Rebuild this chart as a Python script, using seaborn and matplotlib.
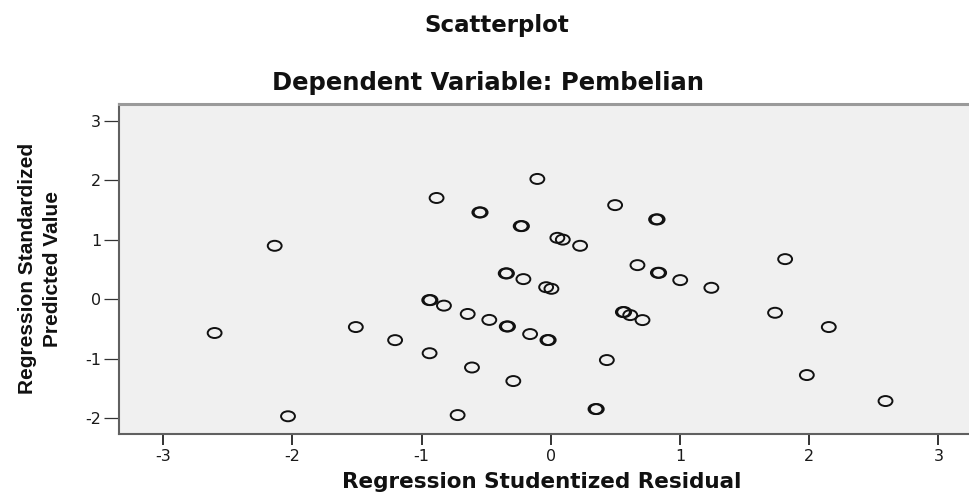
import numpy as np
import matplotlib
matplotlib.use("Agg")
import matplotlib.pyplot as plt
from matplotlib.path import Path
from matplotlib.transforms import Affine2D
import seaborn as sns

# ---------------------------------------------------------
# Data read off the SPSS residual scatterplot
# ---------------------------------------------------------
studentized_residual = [
    -0.884, -0.553, -0.543, -2.137, -0.941, -0.931, -0.827, -0.643, -0.476,
    -2.602, -1.509, -1.205, -0.938, -0.610, -2.034, -0.721,
    -0.104, 0.498, 0.815, 0.827, -0.233, -0.223, 0.051, 0.093, 0.227,
    1.814, -0.349, -0.339, -0.212, 0.671, 0.829, 0.839, 1.002, 1.243,
    -0.036, 0.005, -0.341, -0.331, -0.160, -0.026, -0.016, 0.558, 0.568,
    0.615, 0.710, 1.736, 2.152, 0.434, -0.290, 1.982, 0.346, 0.356, 2.591,
]
standardized_predicted = [
    1.700, 1.457, 1.457, 0.896, -0.017, -0.017, -0.110, -0.250, -0.350,
    -0.570, -0.470, -0.690, -0.910, -1.150, -1.970, -1.950,
    2.020, 1.580, 1.340, 1.340, 1.227, 1.227, 1.030, 1.000, 0.896,
    0.672, 0.432, 0.432, 0.336, 0.571, 0.442, 0.442, 0.319, 0.190,
    0.200, 0.173, -0.460, -0.460, -0.588, -0.689, -0.689, -0.218, -0.218,
    -0.269, -0.353, -0.230, -0.470, -1.025, -1.378, -1.277, -1.849, -1.849, -1.714,
]

x_ticks = [-3, -2, -1, 0, 1, 2, 3]
y_ticks = [-2, -1, 0, 1, 2, 3]

sns.set_style("white")
plt.rcParams["font.family"] = ["DejaVu Sans"]
plt.rcParams["axes.unicode_minus"] = False

fig = plt.figure(figsize=(9.69, 4.95), dpi=100)
ax = fig.add_axes([0.1231, 0.1242, 0.8906, 0.6657])
ax.set_facecolor("#f0f0f0")

# SPSS output is stretched sideways, so the circles are flat ellipses
ellipse = Path.unit_circle().transformed(Affine2D().scale(1.0, 0.72))

sns.scatterplot(
    x=studentized_residual,
    y=standardized_predicted,
    marker=ellipse,
    s=100,
    facecolor="none",
    edgecolor="#111111",
    linewidth=1.4,
    ax=ax,
)

ax.set_xlim(-3.34, 3.34)
ax.set_ylim(-2.26, 3.28)
ax.set_xticks(x_ticks)
ax.set_yticks(y_ticks)
ax.tick_params(axis="x", direction="out", length=8, width=1.4,
               color="#333333", labelsize=11.5, labelcolor="#1a1a1a", pad=3,
               bottom=True)
ax.tick_params(axis="y", direction="out", length=11, width=0.9,
               color="#333333", labelsize=11.5, labelcolor="#1a1a1a", pad=2,
               left=True)

for side in ["left", "bottom"]:
    ax.spines[side].set_color("#606060")
    ax.spines[side].set_linewidth(1.5)
ax.spines["top"].set_color("#9a9a9a")
ax.spines["top"].set_linewidth(2.2)
ax.spines["right"].set_visible(False)

ax.set_xlabel("Regression Studentized Residual", fontsize=15.5,
              fontweight="bold", color="#111111")
ax.xaxis.set_label_coords(0.49, -0.118)
ax.set_ylabel("Regression Standardized\nPredicted Value", fontsize=15,
              fontweight="bold", family=["Liberation Sans", "DejaVu Sans"],
              linespacing=1.4, color="#111111")
ax.yaxis.set_label_coords(-0.066, 0.5)

fig.text(497 / 969, 1 - 32 / 495, "Scatterplot", ha="center", va="baseline",
         fontsize=16.5, fontweight="bold", color="#111111")
fig.text(488 / 969, 1 - 90 / 495, "Dependent Variable: Pembelian",
         ha="center", va="baseline", fontsize=17.5, fontweight="bold",
         color="#111111")

fig.savefig("out.png", dpi=100)
